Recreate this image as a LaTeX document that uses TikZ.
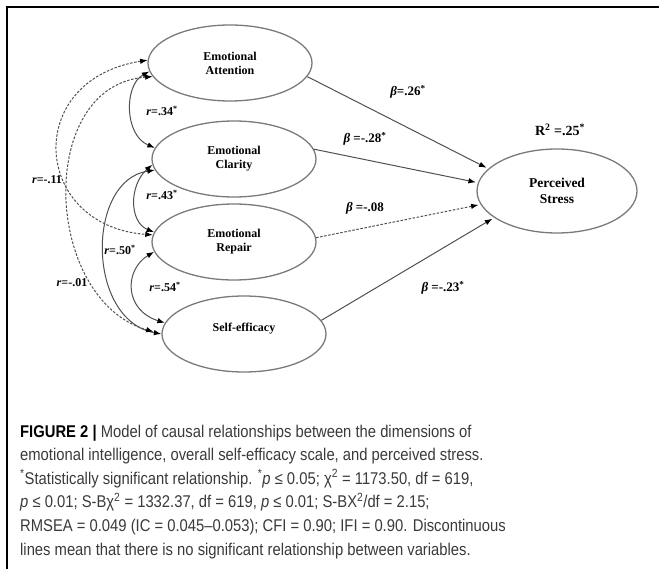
\documentclass[tikz,border=0pt]{standalone}
\usepackage{fontspec}
\setmainfont{Liberation Serif}
\newfontfamily\capfont[FakeStretch=0.87]{Liberation Sans}
\usetikzlibrary{arrows.meta,shapes.geometric}
\definecolor{edgegray}{HTML}{505050}
\definecolor{ovalgray}{HTML}{7A7A7A}
\definecolor{captxt}{HTML}{3A3A3A}
\begin{document}
\begin{tikzpicture}[x=1pt,y=-1pt,
  latent/.style={ellipse, draw=ovalgray, line width=1.3pt, minimum width=164pt, minimum height=76pt, inner sep=0pt, align=center, font=\fontsize{12}{14}\selectfont\bfseries},
  arr/.style={draw=edgegray, line width=1pt, -{Latex[length=7.5pt,width=5.5pt,color=black]}, shorten >=2pt},
  corr/.style={draw=edgegray, line width=1pt, {Latex[length=7.5pt,width=5.5pt,color=black]}-{Latex[length=7.5pt,width=5.5pt,color=black]}},
  ns/.style={dash pattern=on 2.5pt off 1.6pt},
  lbl/.style={font=\fontsize{12}{14}\selectfont\bfseries, inner sep=0pt},
  blbl/.style={font=\fontsize{13}{15}\selectfont\bfseries, inner sep=0pt},
  capline/.style={anchor=base west, inner sep=0pt, font=\capfont\fontsize{17}{20}\selectfont, text=captxt}
]
\useasboundingbox (0,0) rectangle (659,569);
\draw[line width=2pt] (7,569) -- (7,7) -- (659,7);

% latent variables
\node[latent] (att) at (230,63) {Emotional\\Attention};
\node[latent] (cla) at (234,159) {Emotional\\Clarity};
\node[latent] (rep) at (234,242) {Emotional\\Repair};
\node[latent] (se) at (244,334) {Self-efficacy\\\mbox{}};
\node[latent, minimum width=160pt, minimum height=84pt, font=\fontsize{13.5}{16}\selectfont\bfseries] (ps) at (557,191) {Perceived\\Stress};

% regression paths
\draw[arr] (att.-10) -- (ps.162);
\draw[arr] (cla.7) -- (ps.174);
\draw[arr, ns] (rep.3) -- (ps.190);
\draw[arr] (se.10) -- (ps.203);

% correlations
\draw[corr] (att.186) .. controls (124,85) and (124,135) .. (cla.172);
\draw[corr] (cla.184) .. controls (129,185) and (129,222) .. (rep.173);
\draw[corr] (rep.187) .. controls (124,270) and (124,310) .. (se.172);
\draw[corr] (cla.188) .. controls (86,180) and (86,320) .. (se.180);
\draw[corr, ns] (att.178) .. controls (22,80) and (32,226) .. (rep.175);
\draw[corr, ns, shorten >=8pt] (att.190) .. controls (35,85) and (43,300) .. (se.180);

% labels
\node[blbl] (b1) at (408,92) {\textit{β}=.26\textsuperscript{*}};
\node[blbl] (b2) at (365,139) {\textit{β} =-.28\textsuperscript{*}};
\node[blbl] (b3) at (365,208) {\textit{β} =-.08};
\node[blbl] (b4) at (443,288) {\textit{β} =-.23\textsuperscript{*}};
\node[font=\fontsize{14}{16}\selectfont\bfseries, inner sep=0pt] (r2) at (560,130) {R\textsuperscript{2} =.25\textsuperscript{*}};
\node[lbl] (c1) at (162,111) {\textit{r}=.34\textsuperscript{*}};
\node[lbl] (c2) at (162,195) {\textit{r}=.43\textsuperscript{*}};
\node[lbl] (c3) at (120,250) {\textit{r}=.50\textsuperscript{*}};
\node[lbl] (c4) at (165,287) {\textit{r}=.54\textsuperscript{*}};
\node[lbl] (c5) at (47,180) {\textit{r}=-.11};
\node[lbl] (c6) at (72,283) {\textit{r}=-.01};

% caption
\node[capline] (l1) at (20,437) {\textbf{\color{black}FIGURE 2 |} Model of causal relationships between the dimensions of};
\node[capline] (l2) at (20,460.6) {emotional intelligence, overall self-efficacy scale, and perceived stress.};
\node[capline] (l3) at (20,484.2) {\textsuperscript{*}Statistically significant relationship. \textsuperscript{*}\textit{p} ≤ 0.05; χ\textsuperscript{2} = 1173.50, df = 619,};
\node[capline] (l4) at (20,507.8) {\textit{p} ≤ 0.01; S-Bχ\textsuperscript{2} = 1332.37, df = 619, \textit{p} ≤ 0.01; S-BX\textsuperscript{2}/df = 2.15;};
\node[capline] (l5) at (20,531.4) {RMSEA = 0.049 (IC = 0.045–0.053); CFI = 0.90; IFI = 0.90. Discontinuous};
\node[capline] (l6) at (20,555) {lines mean that there is no significant relationship between variables.};
\end{tikzpicture}
\end{document}
